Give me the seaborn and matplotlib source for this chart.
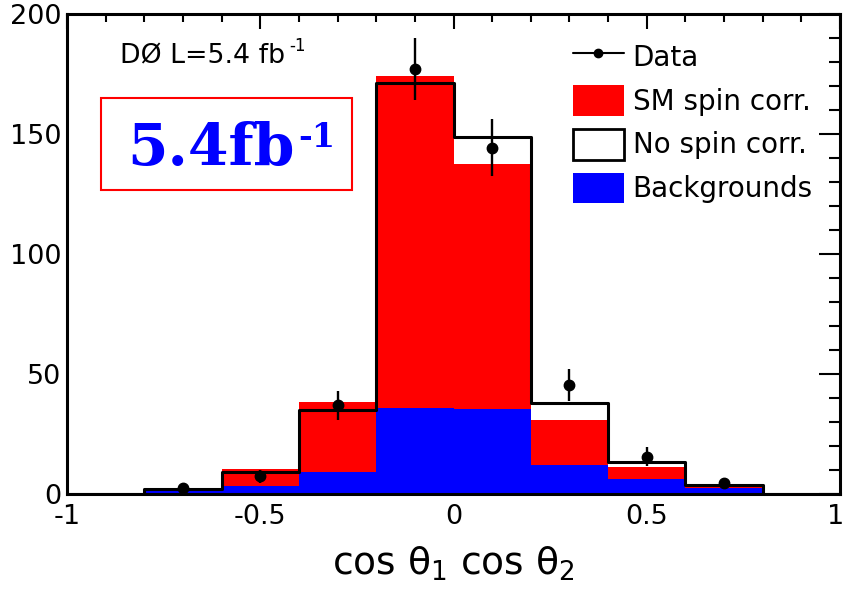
import numpy as np
import pandas as pd
import matplotlib
matplotlib.use("Agg")
import matplotlib.pyplot as plt
import matplotlib.transforms as mtransforms
import seaborn as sns
from matplotlib.patches import Patch, Rectangle
from matplotlib.lines import Line2D
from matplotlib.ticker import MultipleLocator

# ---- data ----
bin_edges = [-1.0, -0.8, -0.6, -0.4, -0.2, 0.0, 0.2, 0.4, 0.6, 0.8, 1.0]
bin_centers = [-0.9, -0.7, -0.5, -0.3, -0.1, 0.1, 0.3, 0.5, 0.7, 0.9]
no_spin_corr = [0.0, 2.1, 9.1, 35.0, 171.4, 148.6, 37.8, 13.5, 3.6, 0.0]
sm_spin_corr = [0.0, 1.7, 10.3, 38.2, 174.3, 137.5, 30.8, 11.1, 3.1, 0.0]
backgrounds = [0.0, 1.3, 3.3, 9.3, 36.0, 35.4, 11.9, 6.4, 2.3, 0.0]
data_x = [-0.7, -0.5, -0.3, -0.1, 0.1, 0.3, 0.5, 0.7]
data_y = [2.6, 7.4, 37.0, 177.0, 144.3, 45.3, 15.6, 4.6]
data_err = [1.6, 2.7, 6.0, 13.0, 12.0, 6.7, 3.8, 2.1]
x_ticks = [-1, -0.5, 0, 0.5, 1]
x_tick_labels = ["-1", "-0.5", "0", "0.5", "1"]
y_ticks = [0, 50, 100, 150, 200]
legend_labels = ["Data", "SM spin corr.", "No spin corr.", "Backgrounds"]

df = pd.DataFrame({"center": bin_centers, "nospin": no_spin_corr,
                   "sm": sm_spin_corr, "bkg": backgrounds})

sns.set_style("white")
plt.rcParams["font.family"] = ["DejaVu Sans"]
plt.rcParams["mathtext.fontset"] = "dejavusans"
for key in ["text.color", "axes.labelcolor", "xtick.color", "ytick.color",
            "axes.edgecolor"]:
    plt.rcParams[key] = "black"

fig = plt.figure(figsize=(8.43, 5.92), dpi=100)
ax = fig.add_axes([67 / 843, 1 - 494 / 592, 773 / 843, 480 / 592])

sns.histplot(data=df, x="center", weights="sm", bins=bin_edges, element="step",
             fill=True, color="#ff0000", alpha=1, linewidth=0, ax=ax, zorder=2)
sns.histplot(data=df, x="center", weights="bkg", bins=bin_edges, element="step",
             fill=True, color="#0000ff", alpha=1, linewidth=0, ax=ax, zorder=3)
sns.histplot(data=df, x="center", weights="nospin", bins=bin_edges, element="step",
             fill=False, color="black", linewidth=2.2, ax=ax, zorder=4)

ax.errorbar(data_x, data_y, yerr=data_err, fmt="o", color="black", ms=7.5,
            elinewidth=1.7, capsize=0, zorder=6)

ax.set_xlim(-1, 1)
ax.set_ylim(0, 200)
ax.set_xticks(x_ticks)
ax.set_xticklabels(x_tick_labels)
ax.set_yticks(y_ticks)
ax.xaxis.set_minor_locator(MultipleLocator(0.1))
ax.yaxis.set_minor_locator(MultipleLocator(10))
ax.tick_params(axis="both", which="both", direction="in", top=True, right=True,
               color="black", labelcolor="black", width=1.5, labelsize=19.5)
ax.tick_params(axis="x", which="major", length=11, pad=7)
ax.tick_params(axis="x", which="minor", length=5.5)
ax.tick_params(axis="y", which="major", length=15, pad=4)
ax.tick_params(axis="y", which="minor", length=8)
for s in ax.spines.values():
    s.set_linewidth(2.2)
    s.set_color("black")
    s.set_zorder(10)

# nudge the last x tick label so it is not clipped by the figure edge
last = ax.get_xticklabels()[-1]
last.set_transform(last.get_transform() +
                   mtransforms.ScaledTranslation(-4 / 100, 0, fig.dpi_scale_trans))

ax.set_ylabel("")
ax.set_xlabel("cos θ$_1$ cos θ$_2$", fontsize=27, labelpad=11, color="black")

# annotations
fig.text(120 / 843, 1 - 63 / 592, "DØ L=5.4 fb", fontsize=19.3,
         ha="left", va="baseline", color="black")
fig.text(289 / 843, 1 - 51 / 592, "-1", fontsize=12,
         ha="left", va="baseline", color="black")
fig.patches.append(Rectangle((101 / 843, 1 - 190 / 592), 251 / 843, 92 / 592,
                             transform=fig.transFigure, fill=False,
                             edgecolor="#ff0000", linewidth=1.5))
fig.text(127 / 843, 1 - 165 / 592, "5.4fb", fontsize=42, fontweight="bold",
         family="DejaVu Serif", color="#0000ff", ha="left", va="baseline")
fig.text(298 / 843, 1 - 147 / 592, "-1", fontsize=24, fontweight="bold",
         family="DejaVu Serif", color="#0000ff", ha="left", va="baseline")

handles = [
    Line2D([], [], color="black", marker="o", ms=6, lw=1.5),
    Patch(facecolor="#ff0000", edgecolor="none"),
    Patch(facecolor="white", edgecolor="black", linewidth=2),
    Patch(facecolor="#0000ff", edgecolor="none"),
]
ax.legend(handles, legend_labels, loc="upper left",
          bbox_to_anchor=((573 - 67) / 773, (494 - 41) / 480),
          frameon=False, fontsize=20, handlelength=1.83, handleheight=1.33,
          labelspacing=0.47, handletextpad=0.32, borderpad=0, borderaxespad=0,
          labelcolor="black")

fig.savefig("out.png", dpi=100, facecolor="white")
